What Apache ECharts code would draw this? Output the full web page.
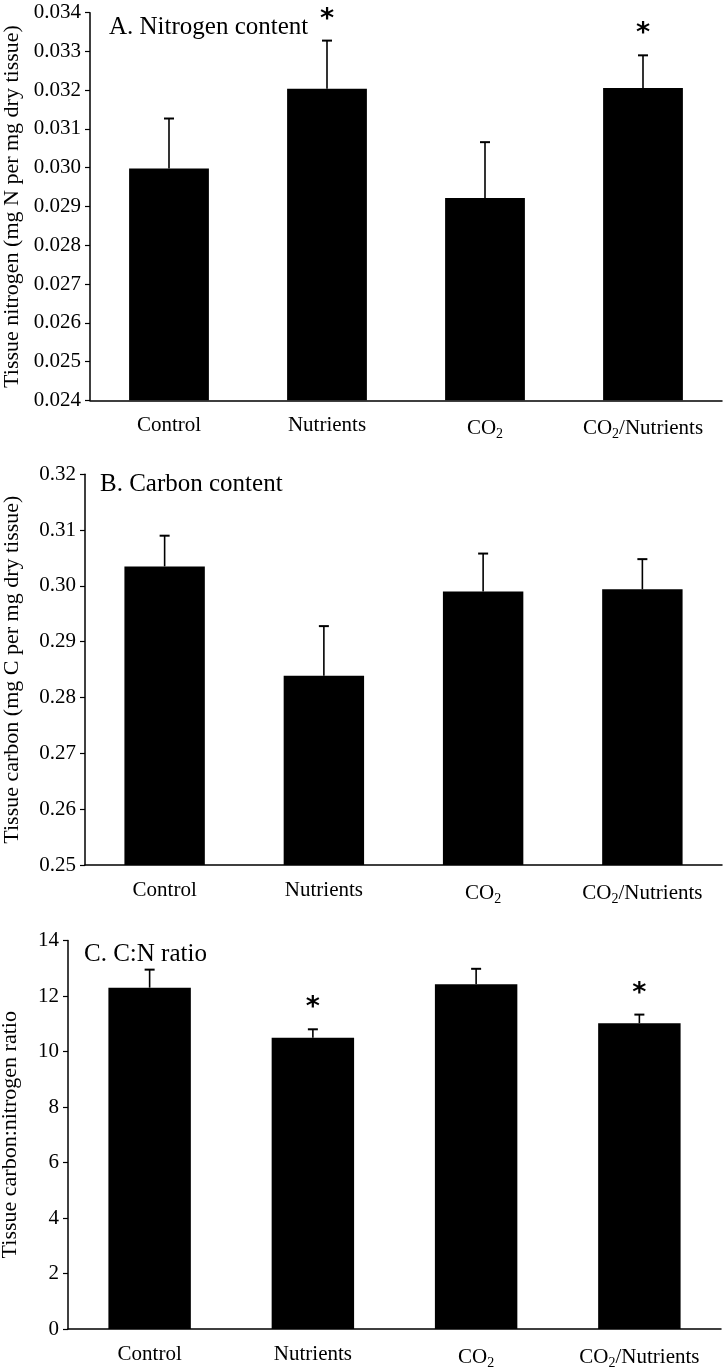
<!DOCTYPE html>
<html><head><meta charset="utf-8">
<script src="https://cdn.jsdelivr.net/npm/echarts@6/dist/echarts.min.js"></script>
<style>html,body{margin:0;padding:0;background:#fff}#c{width:724px;height:1370px}</style>
</head><body><div id="c"></div>
<script>
const categories = ['Control', 'Nutrients', 'CO2', 'CO2/Nutrients'];
const nitrogen = [0.02998, 0.03204, 0.02922, 0.03206];
const nitrogenErr = [0.00129, 0.00124, 0.00144, 0.00084];
const carbon = [0.3035, 0.2839, 0.2990, 0.2994];
const carbonErr = [0.0055, 0.0089, 0.0068, 0.0054];
const ratio = [12.30, 10.50, 12.42, 11.02];
const ratioErr = [0.65, 0.30, 0.56, 0.31];
const sigA = [false, true, false, true];
const sigB = [false, false, false, false];
const sigC = [false, true, false, true];
const titles = ['A. Nitrogen content', 'B. Carbon content', 'C. C:N ratio'];
const yNames = ['Tissue nitrogen (mg N per mg dry tissue)', 'Tissue carbon (mg C per mg dry tissue)', 'Tissue carbon:nitrogen ratio'];
const yRanges = [[0.024, 0.034, 0.001, 3], [0.25, 0.32, 0.01, 2], [0, 14, 2, 0]];

const font = '"Liberation Serif", "Times New Roman", serif';
const grids = [
  {left: 90, top: 12.7, width: 632, height: 387.6, outerBoundsMode: 'none', containLabel: false},
  {left: 85, top: 474.3, width: 637, height: 390.7, outerBoundsMode: 'none', containLabel: false},
  {left: 68, top: 940.5, width: 653, height: 388.5, outerBoundsMode: 'none', containLabel: false}
];
const nameGaps = [67, 62, 47];
const titlePos = [[104, 10], [95, 467], [79, 937]];
const values = [nitrogen, carbon, ratio];
const errs = [nitrogenErr, carbonErr, ratioErr];
const sigs = [sigA, sigB, sigC];

function catLabel(v) {
  return v.replace(/CO2/g, 'CO{sub|2}');
}

const option = {
  animation: false,
  backgroundColor: '#fff',
  grid: grids,
  title: titles.map((t, i) => ({
    text: t,
    left: titlePos[i][0],
    top: titlePos[i][1],
    textStyle: {fontFamily: font, fontSize: 25, fontWeight: 'normal', color: '#000'}
  })),
  xAxis: grids.map((g, i) => ({
    type: 'category', gridIndex: i, data: categories,
    axisLine: {lineStyle: {color: '#000', width: 1.5}},
    axisTick: {show: false},
    axisLabel: {
      interval: 0, margin: 15, color: '#000', fontFamily: font, fontSize: 21,
      formatter: catLabel,
      rich: {sub: {fontSize: 14, fontFamily: font, color: '#000', padding: [12, 0, 0, 0]}}
    }
  })),
  yAxis: grids.map((g, i) => ({
    type: 'value', gridIndex: i,
    min: yRanges[i][0], max: yRanges[i][1], interval: yRanges[i][2],
    name: yNames[i], nameLocation: 'middle', nameGap: nameGaps[i],
    nameTextStyle: {fontFamily: font, fontSize: 22, color: '#000'},
    axisLine: {show: true, lineStyle: {color: '#000', width: 1.5}},
    axisTick: {show: true, length: 5, lineStyle: {color: '#000', width: 1.2}},
    splitLine: {show: false},
    axisLabel: {color: '#000', fontFamily: font, fontSize: 21, margin: 9,
      formatter: v => v.toFixed(yRanges[i][3])}
  })),
  series: []
};

values.forEach((vals, i) => {
  option.series.push({
    type: 'bar', xAxisIndex: i, yAxisIndex: i, data: vals,
    barWidth: '50.5%', itemStyle: {color: '#000'}, z: 2
  });
  option.series.push({
    type: 'custom', xAxisIndex: i, yAxisIndex: i,
    data: vals.map((v, k) => [k, v, v + errs[i][k], sigs[i][k] ? 1 : 0]),
    z: 3,
    renderItem: function (params, api) {
      const x = api.value(0);
      const p0 = api.coord([x, api.value(1)]);
      const p1 = api.coord([x, api.value(2)]);
      const children = [
        {type: 'line', shape: {x1: p0[0], y1: p0[1], x2: p1[0], y2: p1[1]}, style: {stroke: '#000', lineWidth: 1.6}},
        {type: 'line', shape: {x1: p1[0] - 5, y1: p1[1], x2: p1[0] + 5, y2: p1[1]}, style: {stroke: '#000', lineWidth: 2}}
      ];
      if (api.value(3) === 1) {
        children.push({type: 'text', x: p1[0], y: p1[1] - 21, style: {
          text: '*', fontSize: 27, fontWeight: 'bold', fontFamily: '"DejaVu Sans", sans-serif', fill: '#000',
          align: 'center', verticalAlign: 'middle'}});
      }
      return {type: 'group', children: children};
    }
  });
});

const chart = echarts.init(document.getElementById('c'));
chart.setOption(option);
</script></body></html>
